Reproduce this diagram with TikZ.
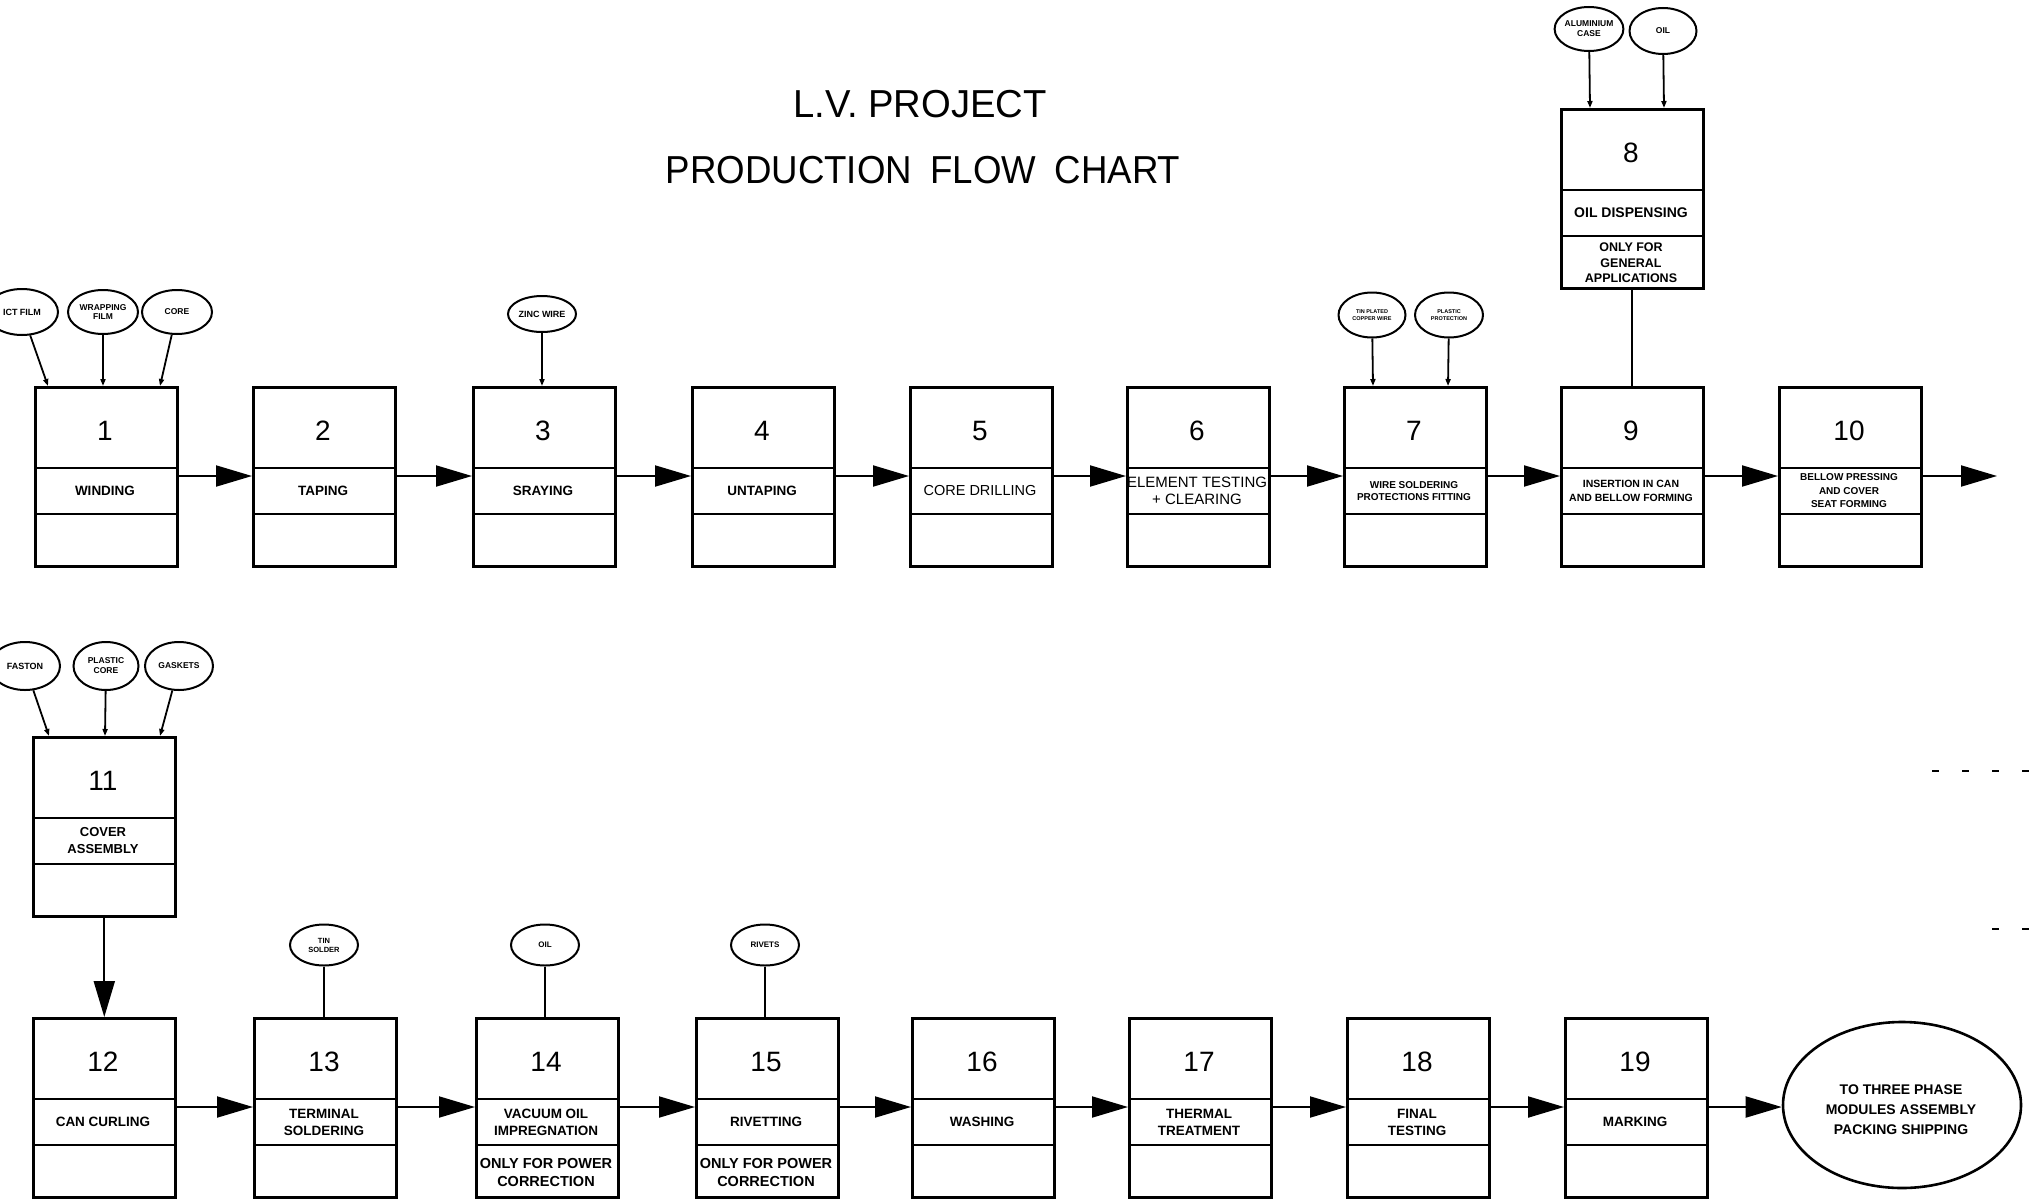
\documentclass[tikz,border=0pt]{standalone}
\usepackage{fontspec}
\setmainfont{Liberation Sans}
\usetikzlibrary{arrows.meta,shapes.geometric}
\tikzset{
 boxline/.style={line width=2.6pt},
 pbox/.style={draw, line width=2.6pt, minimum width=142pt, minimum height=179pt, inner sep=0pt, anchor=north west},
 numlab/.style={font=\fontsize{28}{30}\selectfont, inner sep=0pt},
 seclab/.style={align=center, inner sep=0pt},
 flow/.style={line width=2pt, -{Triangle[length=36pt,width=21pt]}},
 feed/.style={line width=1.8pt, -{Triangle[length=7pt,width=5pt]}},
 supply/.style={draw, ellipse, line width=2pt, inner sep=0pt, align=center},
 stem/.style={line width=2pt},
}
% name, x, y, number, middle font, middle text, bottom font, bottom text
\newcommand{\procbox}[8]{%
 \node[pbox] (#1) at (#2,#3) {};
 \draw[boxline] (#2,{#3+82}) -- ({#2+142},{#3+82});
 \draw[boxline] (#2,{#3+128}) -- ({#2+142},{#3+128});
 \node[numlab] (#1-n) at ({#2+71},{#3+45}) {#4};
 \node[seclab, font={#5}] (#1-m) at ({#2+71},{#3+105}) {#6};
 \node[seclab, font={#7}] (#1-b) at ({#2+71},{#3+155}) {#8};
 \coordinate (#1-i) at (#2,{#3+90});
 \coordinate (#1-o) at ({#2+142},{#3+90});
}
\newcommand{\bff}[2]{\fontsize{#1}{#2}\selectfont\bfseries}
\newcommand{\rff}[2]{\fontsize{#1}{#2}\selectfont}
\begin{document}
\begin{tikzpicture}[x=1pt,y=-1pt]
\useasboundingbox (0,0) rectangle (2033,1199);
\fill[white] (0,0) rectangle (2033,1199);
\clip (0,0) rectangle (2033,1199);

% title
\node[font=\fontsize{39}{42}\selectfont] (t1) at (920,104) {\scalebox{0.98}[1]{L.V. PROJECT}};
\node[font=\fontsize{39}{42}\selectfont] (t2) at (923,170) {\scalebox{0.94}[1]{PRODUCTION\hspace{0.5em}FLOW\hspace{0.5em}CHART}};

% row 1
\procbox{b1}{34}{386}{1}{\bff{13.5}{15}}{WINDING}{\bff{13}{15}}{}
\procbox{b2}{252}{386}{2}{\bff{13.5}{15}}{TAPING}{\bff{13}{15}}{}
\procbox{b3}{472}{386}{3}{\bff{13.5}{15}}{SRAYING}{\bff{13}{15}}{}
\procbox{b4}{691}{386}{4}{\bff{13.5}{15}}{UNTAPING}{\bff{13}{15}}{}
\procbox{b5}{909}{386}{5}{\rff{14.5}{16}}{CORE DRILLING}{\bff{13}{15}}{}
\procbox{b6}{1126}{386}{6}{\rff{15}{17}}{ELEMENT TESTING\\+ CLEARING}{\bff{13}{15}}{}
\procbox{b7}{1343}{386}{7}{\bff{10}{12.5}}{WIRE SOLDERING\\PROTECTIONS FITTING}{\bff{13}{15}}{}
\procbox{b9}{1560}{386}{9}{\bff{10.5}{13.5}}{INSERTION IN CAN\\AND BELLOW FORMING}{\bff{13}{15}}{}
\procbox{b10}{1778}{386}{10}{\bff{10}{13.5}}{BELLOW PRESSING\\AND COVER\\SEAT FORMING}{\bff{13}{15}}{}
\procbox{b8}{1560}{108}{8}{\bff{14}{16}}{OIL DISPENSING}{\bff{12.5}{15.5}}{ONLY FOR\\GENERAL\\APPLICATIONS}

% row 2
\procbox{b11}{32}{736}{11}{\bff{13}{17}}{COVER\\ASSEMBLY}{\bff{13}{15}}{}
\procbox{b12}{32}{1017}{12}{\bff{13.5}{15}}{CAN CURLING}{\bff{13}{15}}{}
\procbox{b13}{253}{1017}{13}{\bff{13.5}{17}}{TERMINAL\\SOLDERING}{\bff{13}{15}}{}
\procbox{b14}{475}{1017}{14}{\bff{13.5}{17}}{VACUUM OIL\\IMPREGNATION}{\bff{14.5}{18}}{ONLY FOR POWER\\CORRECTION}
\procbox{b15}{695}{1017}{15}{\bff{13.5}{17}}{RIVETTING}{\bff{14.5}{18}}{ONLY FOR POWER\\CORRECTION}
\procbox{b16}{911}{1017}{16}{\bff{13.5}{17}}{WASHING}{\bff{13}{15}}{}
\procbox{b17}{1128}{1017}{17}{\bff{13.5}{17}}{THERMAL\\TREATMENT}{\bff{13}{15}}{}
\procbox{b18}{1346}{1017}{18}{\bff{13.5}{17}}{FINAL\\TESTING}{\bff{13}{15}}{}
\procbox{b19}{1564}{1017}{19}{\bff{13.5}{17}}{MARKING}{\bff{13}{15}}{}

\node[draw, ellipse, line width=2.6pt, minimum width=238pt, minimum height=166pt, inner sep=0pt] (fin) at (1902,1105) {};
\node[align=center, inner sep=0pt, font=\bff{14}{20}] (fin-t) at (1901,1110) {TO THREE PHASE\\MODULES ASSEMBLY\\PACKING SHIPPING};

% flow arrows
\draw[flow] (b1-o) -- (b2-i);
\draw[flow] (b2-o) -- (b3-i);
\draw[flow] (b3-o) -- (b4-i);
\draw[flow] (b4-o) -- (b5-i);
\draw[flow] (b5-o) -- (b6-i);
\draw[flow] (b6-o) -- (b7-i);
\draw[flow] (b7-o) -- (b9-i);
\draw[flow] (b9-o) -- (b10-i);
\coordinate (out1) at (1997,476);
\draw[flow] (b10-o) -- (out1);
\draw[stem] (b8.south) -- (b9.north);
\draw[flow] (b11.south) -- (b12.north);
\draw[flow] (b12-o) -- (b13-i);
\draw[flow] (b13-o) -- (b14-i);
\draw[flow] (b14-o) -- (b15-i);
\draw[flow] (b15-o) -- (b16-i);
\draw[flow] (b16-o) -- (b17-i);
\draw[flow] (b17-o) -- (b18-i);
\draw[flow] (b18-o) -- (b19-i);
\draw[flow] (b19-o) -- (b19-o -| fin.west);

% supply ellipses
\node[supply, minimum width=72pt, minimum height=46pt, font=\bff{9}{10}] (e1a) at (22,312) {ICT FILM};
\node[supply, minimum width=70pt, minimum height=44pt, font=\bff{8.5}{9.5}] (e1b) at (103,312) {WRAPPING\\FILM};
\node[supply, minimum width=70pt, minimum height=44pt, font=\bff{8.5}{9.5}] (e1c) at (177,312) {CORE};
\node[supply, minimum width=68pt, minimum height=36pt, font=\bff{9}{10}] (e3) at (542,314) {ZINC WIRE};
\node[supply, minimum width=67pt, minimum height=45pt, font=\bff{5.5}{7}] (e7a) at (1372,315) {TIN PLATED\\COPPER WIRE};
\node[supply, minimum width=68pt, minimum height=45pt, font=\bff{5.5}{7}] (e7b) at (1449,315) {PLASTIC\\PROTECTION};
\node[supply, minimum width=68pt, minimum height=44pt, font=\bff{8.5}{10}] (e8a) at (1589,29) {ALUMINIUM\\CASE};
\node[supply, minimum width=67pt, minimum height=46pt, font=\bff{8.5}{10}] (e8b) at (1663,31) {OIL};
\node[supply, minimum width=70pt, minimum height=48pt, font=\bff{9}{10}] (e11a) at (25,666) {FASTON};
\node[supply, minimum width=65pt, minimum height=48pt, font=\bff{8.5}{10}] (e11b) at (106,666) {PLASTIC\\CORE};
\node[supply, minimum width=68pt, minimum height=48pt, font=\bff{8.5}{10}] (e11c) at (179,666) {GASKETS};
\node[supply, minimum width=68pt, minimum height=41pt, font=\bff{7.5}{9}] (e13) at (324,945) {TIN\\SOLDER};
\node[supply, minimum width=68pt, minimum height=41pt, font=\bff{8}{9}] (e14) at (545,945) {OIL};
\node[supply, minimum width=68pt, minimum height=41pt, font=\bff{8}{9}] (e15) at (765,945) {RIVETS};

% feed targets
\coordinate (f1a) at (48,386);
\coordinate (f1b) at (103,386);
\coordinate (f1c) at (160,386);
\coordinate (f3) at (542,386);
\coordinate (f7a) at (1373,386);
\coordinate (f7b) at (1448,386);
\coordinate (f8a) at (1590,108);
\coordinate (f8b) at (1664,108);
\coordinate (f11a) at (49,736);
\coordinate (f11b) at (105,736);
\coordinate (f11c) at (160,736);
\draw[feed] (e1a) -- (f1a);
\draw[feed] (e1b) -- (f1b);
\draw[feed] (e1c) -- (f1c);
\draw[feed] (e3) -- (f3);
\draw[feed] (e7a) -- (f7a);
\draw[feed] (e7b) -- (f7b);
\draw[feed] (e8a) -- (f8a);
\draw[feed] (e8b) -- (f8b);
\draw[feed] (e11a) -- (f11a);
\draw[feed] (e11b) -- (f11b);
\draw[feed] (e11c) -- (f11c);
\draw[stem] (e13) -- (e13 |- b13.north);
\draw[stem] (e14) -- (e14 |- b14.north);
\draw[stem] (e15) -- (e15 |- b15.north);

% dashed fragments at right edge
\draw[line width=1.6pt, dash pattern=on 7pt off 23pt] (1932,771) -- (2033,771);
\draw[line width=1.6pt, dash pattern=on 7pt off 23pt] (1992,929) -- (2033,929);
\end{tikzpicture}
\end{document}
